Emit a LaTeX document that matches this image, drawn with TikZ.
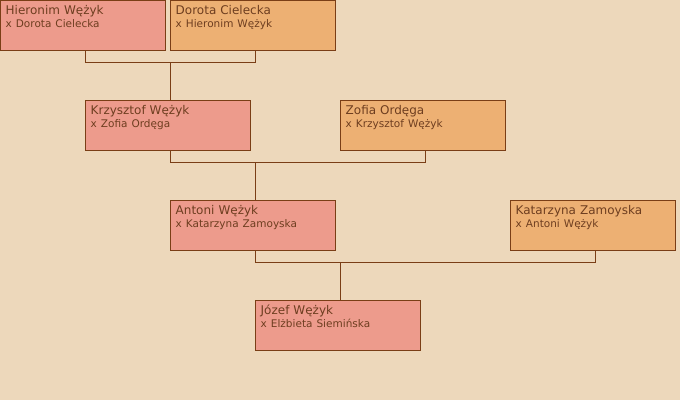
\documentclass[tikz,border=0pt]{standalone}
\usepackage{fontspec}
\setmainfont{DejaVu Sans}
\usetikzlibrary{calc,positioning}
\definecolor{TreeBg}{RGB}{237,216,187}
\definecolor{HeirPink}{RGB}{237,155,140}
\definecolor{SpouseOrange}{RGB}{237,176,115}
\definecolor{TreeBrown}{RGB}{122,62,22}
\definecolor{TextBrown}{RGB}{110,62,32}
\begin{document}
\begin{tikzpicture}[x=1pt,y=-1pt,
  person/.style={draw=TreeBrown,line width=1pt,minimum width=165pt,minimum height=50pt,inner sep=0pt,outer sep=0pt,anchor=north west},
  heir/.style={person,fill=HeirPink},
  spouse/.style={person,fill=SpouseOrange},
  who/.style={anchor=base west,inner sep=0pt,text width=158pt,align=left,text=TextBrown,font=\fontsize{12}{13}\selectfont},
  link/.style={draw=TreeBrown,line width=1pt}]
\fill[TreeBg] (0,0) rectangle (680,400);
\useasboundingbox (0,0) rectangle (680,400);
% generation 1
\node[heir] (hw) at (0.5,0.5) {};
\node[who] at ($(hw.north west)+(5,14)$) {Hieronim Wężyk\\ \fontsize{10.5}{11}\selectfont x Dorota Cielecka};
\node[spouse] (dc) at (170.5,0.5) {};
\node[who] at ($(dc.north west)+(5,14)$) {Dorota Cielecka\\ \fontsize{10.5}{11}\selectfont x Hieronim Wężyk};
% generation 2
\node[heir] (kw) at (85.5,100.5) {};
\node[who] at ($(kw.north west)+(5,14)$) {Krzysztof Wężyk\\ \fontsize{10.5}{11}\selectfont x Zofia Ordęga};
\node[spouse] (zo) at (340.5,100.5) {};
\node[who] at ($(zo.north west)+(5,14)$) {Zofia Ordęga\\ \fontsize{10.5}{11}\selectfont x Krzysztof Wężyk};
% generation 3
\node[heir] (aw) at (170.5,200.5) {};
\node[who] at ($(aw.north west)+(5,14)$) {Antoni Wężyk\\ \fontsize{10.5}{11}\selectfont x Katarzyna Zamoyska};
\node[spouse] (kz) at (510.5,200.5) {};
\node[who] at ($(kz.north west)+(5,14)$) {Katarzyna Zamoyska\\ \fontsize{10.5}{11}\selectfont x Antoni Wężyk};
% generation 4
\node[heir] (jw) at (255.5,300.5) {};
\node[who] at ($(jw.north west)+(5,14)$) {Józef Wężyk\\ \fontsize{10.5}{11}\selectfont x Elżbieta Siemińska};
% couples and children
\draw[link] ([xshift=2pt]hw.south) -- ++(0,12) coordinate (bar1) -| ([xshift=2pt]dc.south);
\draw[link] ([xshift=2pt]kw.north) -- ([xshift=2pt]kw.north |- bar1);
\draw[link] ([xshift=2pt]kw.south) -- ++(0,12) coordinate (bar2) -| ([xshift=2pt]zo.south);
\draw[link] ([xshift=2pt]aw.north) -- ([xshift=2pt]aw.north |- bar2);
\draw[link] ([xshift=2pt]aw.south) -- ++(0,12) coordinate (bar3) -| ([xshift=2pt]kz.south);
\draw[link] ([xshift=2pt]jw.north) -- ([xshift=2pt]jw.north |- bar3);
\end{tikzpicture}
\end{document}
